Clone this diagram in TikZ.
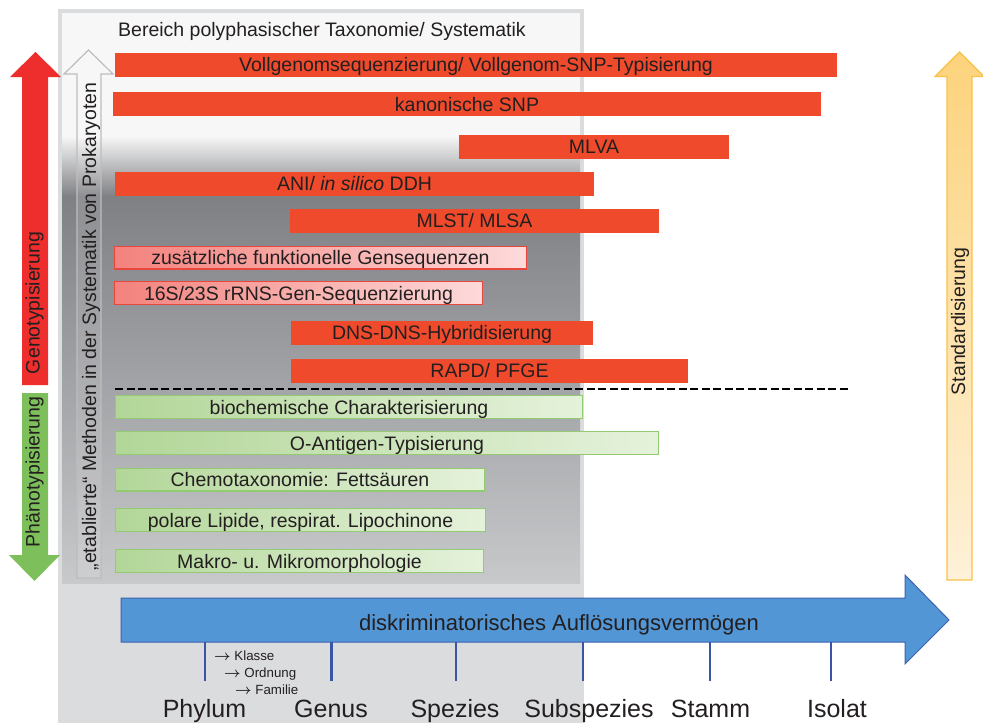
\documentclass[tikz,border=0pt]{standalone}
\usepackage{fontspec}
\setmainfont{Liberation Sans}
\definecolor{barred}{HTML}{EE4A2B}
\definecolor{txt}{HTML}{231F20}
\definecolor{pinkL}{HTML}{F3827D}
\definecolor{pinkR}{HTML}{FDDADA}
\definecolor{pinkB}{HTML}{E8473E}
\definecolor{grnL}{HTML}{B2D698}
\definecolor{grnR}{HTML}{E5F2DB}
\definecolor{grnB}{HTML}{93CB73}
\definecolor{genred}{HTML}{EE2E2C}
\definecolor{phengreen}{HTML}{7DC05B}
\definecolor{blueF}{HTML}{5296D5}
\definecolor{blueB}{HTML}{3C62B0}
\definecolor{tick}{HTML}{3A55A6}
\definecolor{stdT}{HTML}{FDD37C}
\definecolor{stdB}{HTML}{FEF1D8}
\definecolor{stdD}{HTML}{FBC04A}
\definecolor{lowgrey}{HTML}{DBDCDE}
\definecolor{panelL}{HTML}{F7F7F7}
\definecolor{panelD}{HTML}{7F8084}
\definecolor{panelE}{HTML}{C8C9CB}
\definecolor{outlineGrey}{HTML}{BDBDBD}
\newcommand{\rarr}{{\boldmath$\rightarrow$}}
\begin{document}
\begin{tikzpicture}[x=1pt,y=-1pt,
  txtfont/.style={font=\fontsize{19.5}{23}\selectfont},
  bar/.style={inner sep=0pt, minimum height=24pt, text height=14pt, text depth=0pt, text=txt, txtfont},
  redbar/.style={bar, fill=barred},
  pinkbar/.style={bar, draw=pinkB, line width=1.3pt, left color=pinkL, right color=pinkR, minimum height=22.7pt},
  greenbar/.style={bar, draw=grnB, line width=1.3pt, left color=grnL, right color=grnR, minimum height=22.7pt},
  vtext/.style={rotate=90, inner sep=0pt, text height=14pt, text depth=0pt, text=txt, txtfont},
  rank/.style={anchor=base, inner sep=0pt, text=txt, font=\fontsize{25}{30}\selectfont},
  subrank/.style={anchor=base west, inner sep=0pt, text=txt, font=\fontsize{13.3}{16}\selectfont},
  tickline/.style={draw=tick, line width=2.4pt},
]
\useasboundingbox (0,0) rectangle (983,723);
% background panel
\fill[lowgrey] (58,9) rectangle (584,723);
\fill[panelL] (62,13) rectangle (580,136.5);
\shade[top color=panelL, bottom color=panelD] (62,136) rectangle (580,196.5);
\shade[top color=panelD, bottom color=panelE] (62,196) rectangle (580,583);
\node[anchor=base west, inner sep=0pt, txtfont, text=txt] (title) at (118,36.7) {Bereich polyphasischer Taxonomie/ Systematik};
% outline arrow
\draw[draw=outlineGrey, line width=1.2pt, fill=white, fill opacity=0.12] (77,578) -- (77,74) -- (64,74) -- (88.5,50) -- (113,74) -- (101,74) -- (101,578) -- cycle;
\node[vtext] (etab) at (89,326.5) {„etablierte“ Methoden in der Systematik von Prokaryoten};
% bars
\node[redbar, minimum width=722pt] (vg) at (476,64.5) {Vollgenomsequenzierung/ Vollgenom-SNP-Typisierung};
\node[redbar, minimum width=708pt] (snp) at (467,104) {kanonische SNP};
\node[redbar, minimum width=270pt] (mlva) at (594,146.5) {MLVA};
\node[redbar, minimum width=479pt] (ani) at (354.5,183.5) {ANI/ \textit{in silico} DDH};
\node[redbar, minimum width=369pt] (mlst) at (474.5,220.5) {MLST/ MLSA};
\node[pinkbar, minimum width=412pt] (zus) at (320.5,257.5) {zusätzliche funktionelle Gensequenzen};
\node[pinkbar, minimum width=368pt] (rrns) at (298.5,293) {16S/23S rRNS-Gen-Sequenzierung};
\node[redbar, minimum width=302pt] (ddh) at (442,332.5) {DNS-DNS-Hybridisierung};
\node[redbar, minimum width=397pt] (rapd) at (489.5,370.5) {RAPD/ PFGE};
\coordinate (dashL) at (115,389);
\coordinate (dashR) at (848,389);
\draw[black, line width=1.8pt, dash pattern=on 8pt off 3.5pt] (dashL) -- (dashR);
\node[greenbar, minimum width=467pt] (bio) at (349,407) {biochemische Charakterisierung};
\node[greenbar, minimum width=543pt] (oant) at (387,443) {O-Antigen-Typisierung};
\node[greenbar, minimum width=369pt] (chemo) at (300,479.5) {Chemotaxonomie: Fettsäuren};
\node[greenbar, minimum width=370pt] (lip) at (300.5,520) {polare Lipide, respirat. Lipochinone};
\node[greenbar, minimum width=368pt] (makro) at (299.5,561) {Makro- u. Mikromorphologie};
% left arrows
\fill[genred] (22,385) -- (22,77) -- (10,77) -- (35.5,52) -- (61,77) -- (48,77) -- (48,385) -- cycle;
\node[vtext] (geno) at (32.5,303) {Genotypisierung};
\fill[phengreen] (22,393) -- (22,555) -- (9,555) -- (34.5,581) -- (60,555) -- (48,555) -- (48,393) -- cycle;
\node[vtext] (pheno) at (32.5,472) {Phänotypisierung};
% right arrow
\path[draw=stdD, line width=1.2pt, top color=stdT, bottom color=stdB] (947,580) -- (947,76.5) -- (935,76.5) -- (959.5,52) -- (984,76.5) -- (972,76.5) -- (972,580) -- cycle;
\node[vtext] (std) at (958,321.5) {Standardisierung};
% blue arrow
\path[draw=blueB, line width=1pt, fill=blueF] (121,598) -- (905,598) -- (905,575) -- (949,620) -- (905,664) -- (905,642) -- (121,642) -- cycle;
\node[inner sep=0pt, text height=15.8pt, text depth=0pt, text=txt, font=\fontsize{22}{26}\selectfont] (dav) at (559,622.5) {diskriminatorisches Auflösungsvermögen};
% ticks
\foreach \x/\n in {205/a,331.5/b,456/c,582.7/d,710/e,830.7/f}{
  \coordinate (top\n) at (\x,642);
  \coordinate (bot\n) at (\x,681);
  \draw[tickline] (top\n) -- (bot\n);
}
% rank labels
\node[rank] (phylum) at (204.5,717.6) {Phylum};
\node[rank] (genus) at (331,717.6) {Genus};
\node[rank] (spezies) at (455,717.6) {Spezies};
\node[rank] (subsp) at (589,717.6) {Subspezies};
\node[rank] (stamm) at (710.5,717.6) {Stamm};
\node[rank] (isolat) at (837,717.6) {Isolat};
\node[subrank] (klasse) at (214,660.7) {\rarr\ Klasse};
\node[subrank] (ordnung) at (224,677) {\rarr\ Ordnung};
\node[subrank] (familie) at (235,694) {\rarr\ Familie};
\end{tikzpicture}
\end{document}
